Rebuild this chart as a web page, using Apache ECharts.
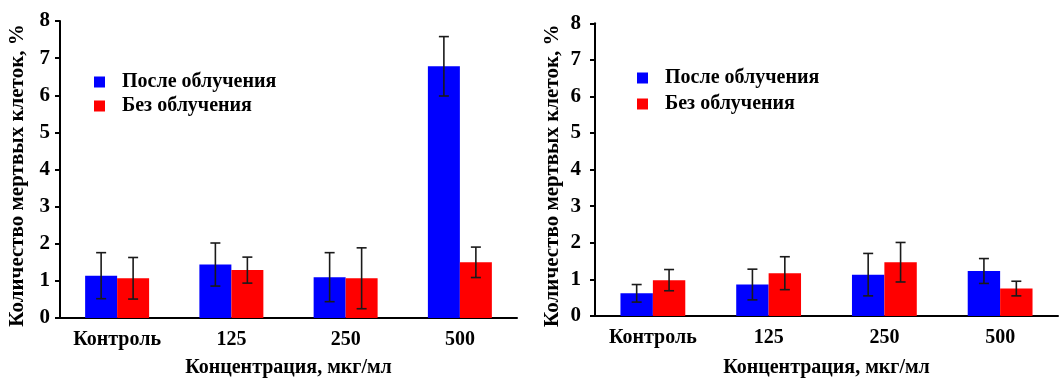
<!DOCTYPE html>
<html>
<head>
<meta charset="utf-8">
<script src="https://cdn.jsdelivr.net/npm/echarts@6/dist/echarts.min.js"></script>
<style>
html,body{margin:0;padding:0;background:#fff;}
#chart{width:1060px;height:383px;}
</style>
</head>
<body>
<div id="chart"></div>
<script>
const categories = ['Контроль', '125', '250', '500'];
const yTicks = ['0', '1', '2', '3', '4', '5', '6', '7', '8'];
const seriesNames = ['После облучения', 'Без облучения'];
const xTitle = 'Концентрация, мкг/мл';
const yTitle = 'Количество мертвых клеток, %';

// Left panel
const leftAfter = [1.14, 1.44, 1.10, 6.78];
const leftAfterErr = [0.62, 0.58, 0.66, 0.80];
const leftNo = [1.07, 1.29, 1.07, 1.50];
const leftNoErr = [0.56, 0.35, 0.82, 0.41];
// Right panel
const rightAfter = [0.62, 0.86, 1.13, 1.23];
const rightAfterErr = [0.24, 0.42, 0.58, 0.34];
const rightNo = [0.98, 1.17, 1.47, 0.75];
const rightNoErr = [0.29, 0.45, 0.54, 0.20];

const FONT = '"Liberation Serif", "Times New Roman", serif';
const GAP = 0.44;
const BLUE = '#0000ff';
const RED = '#ff0000';

function errSeries(vals, errs, side, idx) {
  return {
    type: 'custom',
    xAxisIndex: idx, yAxisIndex: idx,
    z: 5,
    silent: true,
    data: vals.map((v, i) => [i, v, errs[i]]),
    renderItem: function (params, api) {
      const c = api.value(0), v = api.value(1), e = api.value(2);
      const band = api.size([1, 0])[0];
      const bw = band * (1 - GAP) / 2;
      const top = api.coord([c, v + e]);
      const bot = api.coord([c, v - e]);
      const x = top[0] + side * bw / 2;
      const cap = 5;
      const st = { stroke: '#1a1a1a', lineWidth: 1.6 };
      return {
        type: 'group',
        children: [
          { type: 'line', shape: { x1: x, y1: top[1], x2: x, y2: bot[1] }, style: st },
          { type: 'line', shape: { x1: x - cap, y1: top[1], x2: x + cap, y2: top[1] }, style: st },
          { type: 'line', shape: { x1: x - cap, y1: bot[1], x2: x + cap, y2: bot[1] }, style: st }
        ]
      };
    }
  };
}

function xAxis(idx, gap) {
  return {
    type: 'category', gridIndex: idx, data: categories,
    name: xTitle, nameLocation: 'middle', nameGap: gap,
    nameTextStyle: { fontFamily: FONT, fontWeight: 'bold', fontSize: 20, color: '#000' },
    axisLine: { lineStyle: { color: '#000', width: 2 } },
    axisTick: { length: 5, lineStyle: { color: '#000', width: 2 } },
    axisLabel: { fontFamily: FONT, fontWeight: 'bold', fontSize: 20, color: '#000', margin: 12 }
  };
}
function yAxis(idx, margin) {
  return {
    type: 'value', gridIndex: idx, min: 0, max: 8, interval: 1,
    name: yTitle, nameLocation: 'middle', nameGap: 32, nameRotate: 90,
    nameTextStyle: { fontFamily: FONT, fontWeight: 'bold', fontSize: 21, color: '#000', padding: [0, 12, 0, 0] },
    axisLine: { show: true, lineStyle: { color: '#000', width: 2 } },
    axisTick: { show: true, length: 5, lineStyle: { color: '#000', width: 2 } },
    splitLine: { show: false },
    axisLabel: { fontFamily: FONT, fontWeight: 'bold', fontSize: 21, color: '#000', margin: margin,
      formatter: function (v) { return yTicks[Math.round(v)]; } }
  };
}
function bar(name, vals, color, idx) {
  return {
    type: 'bar', name: name, xAxisIndex: idx, yAxisIndex: idx,
    data: vals, barGap: '0%', barCategoryGap: (GAP * 100) + '%',
    itemStyle: { color: color }
  };
}
function legend(left, top, gap) {
  return {
    data: seriesNames, orient: 'vertical', left: left, top: top,
    itemWidth: 11, itemHeight: 11, itemGap: gap, icon: 'rect',
    selectedMode: false,
    textStyle: { fontFamily: FONT, fontWeight: 'bold', fontSize: 20, color: '#000', padding: [0, 0, 0, 12] }
  };
}

const chart = echarts.init(document.getElementById('chart'), null, { renderer: 'canvas' });
chart.setOption({
  animation: false,
  backgroundColor: '#fff',
  grid: [
    { left: 60, right: 543, top: 21, bottom: 63.5 },
    { left: 595, right: 2, top: 23.3, bottom: 62.3 }
  ],
  legend: [legend(89, 67, 4), legend(632, 63, 6)],
  xAxis: [xAxis(0, 40), xAxis(1, 42)],
  yAxis: [yAxis(0, 10), yAxis(1, 14)],
  series: [
    bar(seriesNames[0], leftAfter, BLUE, 0),
    bar(seriesNames[1], leftNo, RED, 0),
    errSeries(leftAfter, leftAfterErr, -1, 0),
    errSeries(leftNo, leftNoErr, 1, 0),
    bar(seriesNames[0], rightAfter, BLUE, 1),
    bar(seriesNames[1], rightNo, RED, 1),
    errSeries(rightAfter, rightAfterErr, -1, 1),
    errSeries(rightNo, rightNoErr, 1, 1)
  ]
});
</script>
</body>
</html>
